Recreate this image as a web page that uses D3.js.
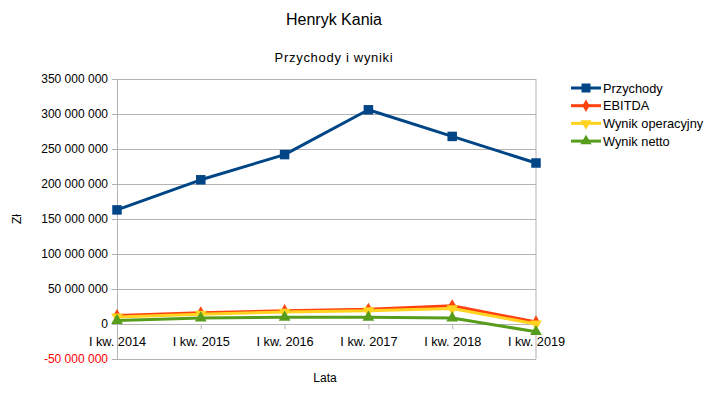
<!DOCTYPE html>
<html>
<head>
<meta charset="utf-8">
<script src="https://cdn.jsdelivr.net/npm/d3@7"></script>
<style>
  body { margin: 0; background: #fff; }
  text { font-family: "Liberation Sans", Arial, sans-serif; }
</style>
</head>
<body>
<div id="chart"></div>
<script>
const WIDTH = 712;
const HEIGHT = 394;
const PLOT = {left: 117, right: 536, top: 79, bottom: 359};

// data
const categories = ["I kw. 2014", "I kw. 2015", "I kw. 2016", "I kw. 2017", "I kw. 2018", "I kw. 2019"];
const przychody = [163000000, 206000000, 242000000, 306000000, 268000000, 230000000];
const ebitda = [12000000, 16000000, 19000000, 21000000, 26000000, 3000000];
const wynikOperacyjny = [10000000, 14000000, 17000000, 19000000, 22000000, 0];
const wynikNetto = [5000000, 8500000, 9500000, 9500000, 8500000, -11000000];
const yTicks = [-50000000, 0, 50000000, 100000000, 150000000, 200000000, 250000000, 300000000, 350000000];

const series = [
  {name: "Przychody", values: przychody, color: "#004586", symbol: d3.symbolSquare, size: 90, rotate: 0},
  {name: "EBITDA", values: ebitda, color: "#ff420e", symbol: d3.symbolDiamond, size: 50, rotate: 0},
  {name: "Wynik operacyjny", values: wynikOperacyjny, color: "#ffd320", symbol: d3.symbolTriangle, size: 60, rotate: 180},
  {name: "Wynik netto", values: wynikNetto, color: "#579d1c", symbol: d3.symbolTriangle, size: 60, rotate: 0}
];

const locale = d3.formatLocale({decimal: ",", thousands: " ", grouping: [3], currency: ["", ""], minus: "-"});
const fmt = locale.format(",d");

const svg = d3.select("#chart")
  .append("svg")
    .attr("width", WIDTH)
    .attr("height", HEIGHT);

const xScale = d3.scalePoint().domain(categories).range([PLOT.left, PLOT.right]).padding(0);
const yScale = d3.scaleLinear().domain([-50000000, 350000000]).range([PLOT.bottom, PLOT.top]);

// titles
svg.append("text")
  .attr("x", 334).attr("y", 25)
  .attr("text-anchor", "middle")
  .style("font-size", "16px")
  .text("Henryk Kania");

svg.append("text")
  .attr("x", 334).attr("y", 62)
  .attr("text-anchor", "middle")
  .style("font-size", "13px")
  .style("letter-spacing", "0.7px")
  .text("Przychody i wyniki");

// horizontal grid
svg.append("g")
  .attr("transform", "translate(" + PLOT.left + ",0)")
  .call(d3.axisLeft(yScale).tickValues(yTicks).tickSize(-(PLOT.right - PLOT.left)).tickFormat(""))
  .call(g => g.select(".domain").remove())
  .selectAll("line").attr("stroke", "#b3b3b3");

// y axis
const yAxis = svg.append("g")
  .attr("transform", "translate(" + PLOT.left + ",0)")
  .call(d3.axisLeft(yScale).tickValues(yTicks).tickSize(5).tickSizeOuter(0).tickPadding(4).tickFormat(fmt));
yAxis.select(".domain").attr("stroke", "#b3b3b3");
yAxis.selectAll("line").attr("stroke", "#b3b3b3");
yAxis.selectAll("text")
  .style("font-size", "12px")
  .style("font-family", "Liberation Sans, Arial, sans-serif")
  .style("fill", d => d < 0 ? "#ff0000" : "#000");

// right border of the plot
svg.append("line")
  .attr("x1", PLOT.right).attr("x2", PLOT.right)
  .attr("y1", PLOT.top).attr("y2", PLOT.bottom)
  .attr("stroke", "#b3b3b3");

// x axis crossing at zero
const xAxis = svg.append("g")
  .attr("transform", "translate(0," + yScale(0) + ")")
  .call(d3.axisBottom(xScale).tickSize(5).tickSizeOuter(0).tickPadding(8));
xAxis.select(".domain").attr("stroke", "#b3b3b3");
xAxis.selectAll("line").attr("stroke", "#b3b3b3");
xAxis.selectAll("text")
  .style("font-size", "12.7px")
  .style("font-family", "Liberation Sans, Arial, sans-serif")
  .style("fill", "#000");

// axis titles
svg.append("text")
  .attr("transform", "translate(21,219) rotate(-90)")
  .attr("text-anchor", "middle")
  .style("font-size", "12px")
  .text("Zł");

svg.append("text")
  .attr("x", 325).attr("y", 382)
  .attr("text-anchor", "middle")
  .style("font-size", "12px")
  .text("Lata");

// lines and markers
const line = d3.line()
  .x((d, i) => xScale(categories[i]))
  .y(d => yScale(d));

series.forEach(s => {
  svg.append("path")
    .datum(s.values)
    .attr("fill", "none")
    .attr("stroke", s.color)
    .attr("stroke-width", 3)
    .attr("stroke-linejoin", "round")
    .attr("d", line);

  svg.selectAll(null)
    .data(s.values)
    .enter()
    .append("path")
      .attr("d", d3.symbol().type(s.symbol).size(s.size))
      .attr("fill", s.color)
      .attr("transform", (d, i) => "translate(" + xScale(categories[i]) + "," + yScale(d) + ") rotate(" + s.rotate + ")");
});

// legend
const legend = svg.append("g").attr("transform", "translate(571,88)");
series.forEach((s, i) => {
  const row = legend.append("g").attr("transform", "translate(0," + (i * 17.7) + ")");
  row.append("line")
    .attr("x1", 0).attr("x2", 30)
    .attr("stroke", s.color)
    .attr("stroke-width", 3);
  row.append("path")
    .attr("d", d3.symbol().type(s.symbol).size(s.size * 0.9))
    .attr("fill", s.color)
    .attr("transform", "translate(15,0) rotate(" + s.rotate + ")");
  row.append("text")
    .attr("x", 32).attr("y", 4.5)
    .style("font-size", "12.8px")
    .text(s.name);
});
</script>
</body>
</html>
